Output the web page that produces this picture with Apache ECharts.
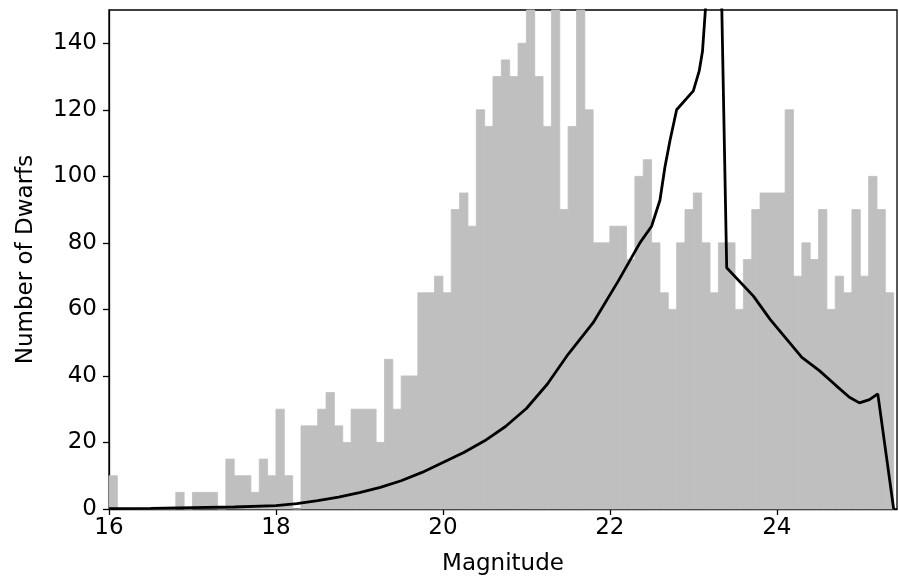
<!DOCTYPE html>
<html><head><meta charset="utf-8">
<script src="https://cdn.jsdelivr.net/npm/echarts@6/dist/echarts.min.js"></script>
<style>html,body{margin:0;padding:0;background:#fff}#c{width:899px;height:581px}</style>
</head><body><div id="c"></div>
<script>
// Histogram: bins of 0.1 mag starting at 16.0
const binStart = 16.0;
const binWidth = 0.1;
const binCounts = [
  10,0,0,0,0,0,0,0,5,0,          // 16.0-16.9
  5,5,5,0,15,10,10,5,15,10,      // 17.0-17.9
  30,10,0,25,25,30,35,25,20,30,  // 18.0-18.9
  30,30,20,45,30,40,40,65,65,70, // 19.0-19.9
  65,90,95,85,120,115,130,135,130,140, // 20.0-20.9
  165,130,115,160,90,115,160,120,80,80, // 21.0-21.9
  85,85,75,100,105,80,65,60,80,90,     // 22.0-22.9
  95,80,65,80,80,60,75,90,95,95,       // 23.0-23.9
  95,120,70,80,75,90,60,70,65,90,      // 24.0-24.9
  70,100,90,65                         // 25.0-25.3
];
// Model curve
const lineMag = [16.0,16.5,17.0,17.5,18.0,18.25,18.5,18.75,19.0,19.25,19.5,19.75,20.0,20.25,20.5,20.75,21.0,21.25,21.5,21.8,22.1,22.36,22.5,22.6,22.66,22.72,22.8,23.0,23.07,23.11,23.2,23.3,23.4,23.72,23.92,24.12,24.3,24.51,24.71,24.87,24.99,25.11,25.21,25.4];
const lineCount = [0.1,0.2,0.4,0.6,1.0,1.6,2.5,3.6,4.9,6.5,8.5,11.0,14.0,17.0,20.5,24.8,30.2,37.5,46.5,56.0,68.5,80.0,85.0,92.8,102.8,110.7,120.0,125.7,131.6,137.6,170,205,72.5,64.0,57.0,51.0,45.6,41.6,37.1,33.6,31.9,32.9,34.6,0];
const xTicks = [16,18,20,22,24];
const yTicks = [0,20,40,60,80,100,120,140];
const xMin = 16, xMax = 25.44, yMin = 0, yMax = 150;

const histData = binCounts.map((c,i)=>[binStart+i*binWidth, binStart+(i+1)*binWidth, c]);
const lineData = lineMag.map((m,i)=>[m, lineCount[i]]);

const FONT = 'DejaVu Sans';
const FS = 23;
const chart = echarts.init(document.getElementById('c'), null, {renderer:'canvas'});
chart.setOption({
  animation:false,
  backgroundColor:'#fff',
  grid:{left:109, top:10, right:2, bottom:70, show:true, borderColor:'#000', borderWidth:1.3, containLabel:false},
  xAxis:{
    type:'value', min:xMin, max:xMax,
    name:'Magnitude', nameLocation:'middle', nameGap:44,
    nameTextStyle:{fontFamily:FONT, fontSize:FS, color:'#000'},
    axisLine:{show:true, lineStyle:{color:'#000', width:1.3}},
    axisTick:{show:true, inside:false, length:6, lineStyle:{color:'#000', width:1.3}, customValues:xTicks},
    axisLabel:{customValues:xTicks, margin:8, fontFamily:FONT, fontSize:FS, color:'#000'},
    splitLine:{show:false}
  },
  yAxis:{
    type:'value', min:yMin, max:yMax,
    name:'Number of Dwarfs', nameLocation:'middle', nameGap:71, nameRotate:90,
    nameTextStyle:{fontFamily:FONT, fontSize:FS, color:'#000'},
    axisLine:{show:true, lineStyle:{color:'#000', width:1.3}},
    axisTick:{show:true, inside:false, length:6, lineStyle:{color:'#000', width:1.3}, customValues:yTicks},
    axisLabel:{customValues:yTicks, margin:12, fontFamily:FONT, fontSize:FS, color:'#000'},
    splitLine:{show:false}
  },
  series:[
    {
      type:'custom',
      data:histData,
      encode:{x:[0,1], y:2},
      renderItem:function(params, api){
        const p0 = api.coord([api.value(0), api.value(2)]);
        const p1 = api.coord([api.value(1), 0]);
        const shape = echarts.graphic.clipRectByRect(
          {x:p0[0], y:p0[1], width:p1[0]-p0[0], height:p1[1]-p0[1]},
          {x:params.coordSys.x, y:params.coordSys.y, width:params.coordSys.width, height:params.coordSys.height});
        return shape && {type:'rect', shape:shape, style:{fill:'#bfbfbf', stroke:'#bfbfbf', lineWidth:0.8}};
      },
      z:1
    },
    {
      type:'line',
      data:lineData,
      showSymbol:false, symbol:'none',
      clip:true,
      lineStyle:{color:'#000', width:2.8},
      z:3
    }
  ]
});
</script>
</body></html>
